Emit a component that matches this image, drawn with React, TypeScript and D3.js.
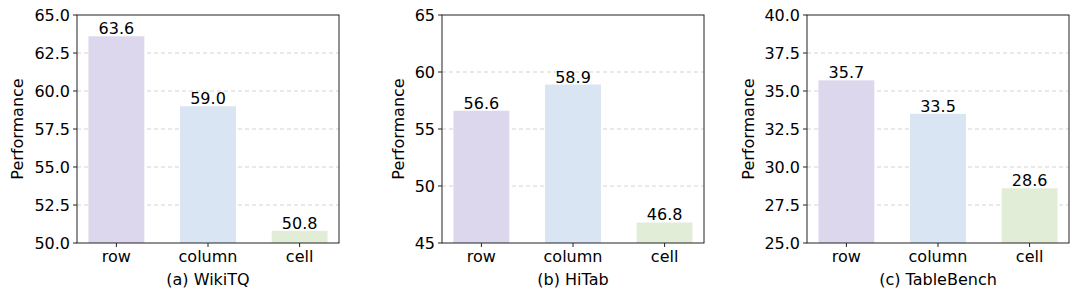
import { useEffect, useRef } from 'react'
import * as d3 from 'd3'

const categories = ['row', 'column', 'cell']
const barColors = ['#dcd7ec', '#dae5f3', '#e2edd7']

const titles = ['(a) WikiTQ', '(b) HiTab', '(c) TableBench']
const wikiValues = [63.6, 59.0, 50.8]
const hitabValues = [56.6, 58.9, 46.8]
const benchValues = [35.7, 33.5, 28.6]

const yDomains: [number, number][] = [[50, 65], [45, 65], [25, 40]]
const yTicks = [
  [50, 52.5, 55, 57.5, 60, 62.5, 65],
  [45, 50, 55, 60, 65],
  [25, 27.5, 30, 32.5, 35, 37.5, 40],
]
const tickFormats = ['.1f', 'd', '.1f']

const width = 1080
const height = 298
const FONT = 'DejaVu Sans, sans-serif'
const FS = 16

export default function App() {
  const svgRef = useRef<SVGSVGElement>(null)

  useEffect(() => {
    if (!svgRef.current) return
    const svg = d3.select(svgRef.current)
    svg.selectAll('*').remove()

    const series = [wikiValues, hitabValues, benchValues]
    const lefts = [77, 442, 807]
    const labelOffsets = [60, 44, 59]
    const top = 15
    const axW = 262
    const axH = 228

    series.forEach((vals, p) => {
      const g = svg.append('g').attr('transform', `translate(${lefts[p]},${top})`)

      // matplotlib-like: bar width 0.6, 5% margins
      const x = d3.scaleLinear().domain([-0.43, 2.43]).range([0, axW])
      const y = d3.scaleLinear().domain(yDomains[p]).range([axH, 0])
      const bw = x(0.61) - x(0)
      const fmt = d3.format(tickFormats[p])

      // grid
      g.selectAll('line.grid')
        .data(yTicks[p].slice(1, -1))
        .enter().append('line')
        .attr('x1', 0).attr('x2', axW)
        .attr('y1', d => y(d)).attr('y2', d => y(d))
        .attr('stroke', '#b0b0b0')
        .attr('stroke-opacity', 0.7)
        .attr('stroke-width', 0.8)
        .attr('stroke-dasharray', '4,3')

      // bars
      g.selectAll('rect.bar')
        .data(vals)
        .enter().append('rect')
        .attr('x', (_, i) => x(i) - bw / 2)
        .attr('width', bw)
        .attr('y', d => y(d))
        .attr('height', d => axH - y(d))
        .attr('fill', (_, i) => barColors[i])

      // value labels
      g.selectAll('text.val')
        .data(vals)
        .enter().append('text')
        .attr('x', (_, i) => x(i))
        .attr('y', d => y(d) - 2)
        .attr('text-anchor', 'middle')
        .style('font-family', FONT)
        .style('font-size', `${FS}px`)
        .attr('fill', '#000')
        .text(d => d.toFixed(1))

      // spines
      g.append('rect')
        .attr('x', 0).attr('y', 0)
        .attr('width', axW).attr('height', axH)
        .attr('fill', 'none')
        .attr('stroke', '#222')
        .attr('stroke-width', 1)

      // y ticks
      yTicks[p].forEach(t => {
        g.append('line')
          .attr('x1', -4).attr('x2', 0)
          .attr('y1', y(t)).attr('y2', y(t))
          .attr('stroke', '#222')
        g.append('text')
          .attr('x', -7)
          .attr('y', y(t))
          .attr('dy', '0.36em')
          .attr('text-anchor', 'end')
          .style('font-family', FONT)
          .style('font-size', `${FS}px`)
          .text(fmt(t))
      })

      // x ticks
      categories.forEach((c, i) => {
        g.append('line')
          .attr('x1', x(i)).attr('x2', x(i))
          .attr('y1', axH).attr('y2', axH + 4)
          .attr('stroke', '#222')
        g.append('text')
          .attr('x', x(i))
          .attr('y', axH + 19)
          .attr('text-anchor', 'middle')
          .style('font-family', FONT)
          .style('font-size', `${FS}px`)
          .text(c)
      })

      // x title
      g.append('text')
        .attr('x', axW / 2)
        .attr('y', axH + 42)
        .attr('text-anchor', 'middle')
        .style('font-family', FONT)
        .style('font-size', `${FS}px`)
        .text(titles[p])

      // y label
      g.append('text')
        .attr('transform', `translate(${-labelOffsets[p]},${axH / 2}) rotate(-90)`)
        .attr('dy', '0.36em')
        .attr('text-anchor', 'middle')
        .style('font-family', FONT)
        .style('font-size', `${FS}px`)
        .text('Performance')
    })
  }, [])

  return (
    <svg
      ref={svgRef}
      width={width}
      height={height}
      style={{ position: 'absolute', left: 0, top: 0, background: '#fff' }}
    />
  )
}
